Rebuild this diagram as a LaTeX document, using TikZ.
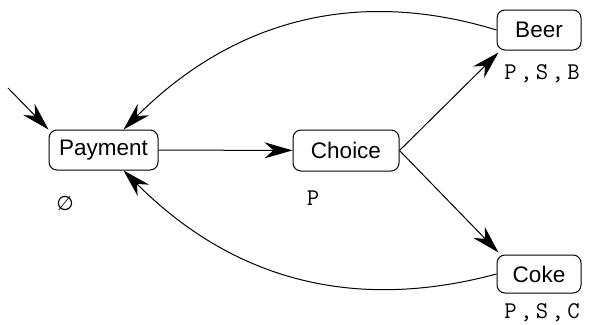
\documentclass[tikz,border=0pt]{standalone}
\usepackage{fontspec}
\setmainfont{Liberation Sans}
\newfontfamily\lblfont{Latin Modern Mono}[LetterSpace=14]
\newfontfamily\symfont{DejaVu Sans}
\usetikzlibrary{arrows.meta}
\begin{document}
\begin{tikzpicture}[x=1pt,y=-1pt,
 state/.style={draw,rounded corners=8pt,line width=1pt,inner sep=0pt,font=\fontsize{22.5}{26}\selectfont},
 lbl/.style={font=\lblfont\fontsize{24}{28}\selectfont,inner sep=0pt},
 edge/.style={line width=1pt,-{Stealth[length=28pt,width=16pt,inset=9pt]}}]
\useasboundingbox (0,0) rectangle (596,324);
\node[state,minimum width=109pt,minimum height=40pt] (pay) at (103.5,150) {Payment};
\node[state,minimum width=106pt,minimum height=41pt] (cho) at (346,150.5) {Choice};
\node[state,minimum width=84pt,minimum height=40pt] (beer) at (539,30) {Beer};
\node[state,minimum width=84pt,minimum height=38pt] (coke) at (539,274) {Coke};
\node[lbl] (lb) at (542,74) {P,S,B};
\node[lbl] (lc) at (542,313) {P,S,C};
\node[lbl] (lp) at (313,198) {P};
\node[inner sep=0pt,font=\symfont\fontsize{20}{24}\selectfont] (le) at (65,203) {∅};
\coordinate (init) at (8,88);
\draw[edge] (init) -- (pay.north west);
\draw[edge] (pay) -- (cho);
\draw[edge] (cho.east) -- ([xshift=2pt,yshift=-2pt]beer.south west);
\draw[edge] (cho.east) -- ([xshift=2pt,yshift=2pt]coke.north west);
\draw[edge] (beer.west) to[out=163,in=45] ([xshift=20pt]pay.north);
\draw[edge] (coke.west) to[out=195,in=-45] ([xshift=20pt]pay.south);
\end{tikzpicture}
\end{document}
